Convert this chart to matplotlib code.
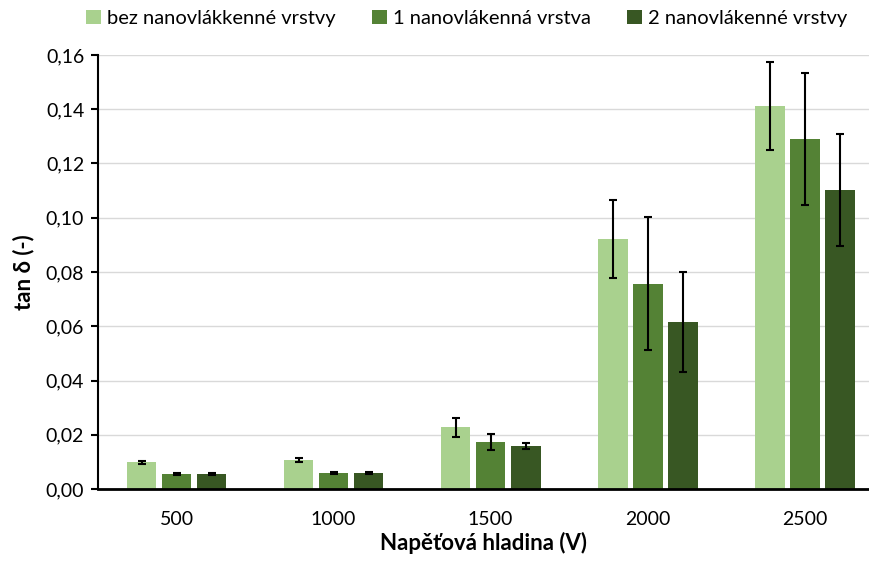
import numpy as np
import matplotlib.pyplot as plt
from matplotlib.ticker import FuncFormatter

plt.rcParams['font.family'] = ['Lato', 'DejaVu Sans']

categories = ['500', '1000', '1500', '2000', '2500']
series = ['bez nanovlákkenné vrstvy', '1 nanovlákenná vrstva', '2 nanovlákenné vrstvy']
values_0 = [0.0098, 0.0107, 0.0228, 0.0922, 0.1412]
values_1 = [0.0055, 0.0058, 0.0173, 0.0756, 0.1290]
values_2 = [0.0054, 0.0058, 0.0158, 0.0616, 0.1102]
errors_0 = [0.0005, 0.0006, 0.0035, 0.0144, 0.0162]
errors_1 = [0.0003, 0.0003, 0.0028, 0.0245, 0.0244]
errors_2 = [0.0004, 0.0003, 0.0012, 0.0183, 0.0205]
colors = ['#A9D18E', '#548235', '#385723']

fig = plt.figure(figsize=(8.69, 5.61), dpi=100)
ax = fig.add_axes([0.1128, 0.1283, 0.8872, 0.7737])

x = np.arange(len(categories))
step = 0.223
width = 0.19
for i, (vals, errs) in enumerate(zip([values_0, values_1, values_2], [errors_0, errors_1, errors_2])):
    ax.bar(x + (i - 1) * step, vals, width, color=colors[i], label=series[i], zorder=2,
           yerr=errs, capsize=3, error_kw=dict(ecolor='black', elinewidth=1.5, capthick=1.5))

ax.set_xlim(-0.5, 4.41)
ax.set_ylim(0, 0.16)
ax.set_yticks(np.arange(0, 0.161, 0.02))
ax.yaxis.set_major_formatter(FuncFormatter(lambda v, p: f'{v:.2f}'.replace('.', ',')))
ax.set_xticks(x)
ax.set_xticklabels(categories)
ax.tick_params(axis='x', length=0, labelsize=14, pad=16)
ax.tick_params(axis='y', length=5, width=1.5, labelsize=14, direction='out', pad=5)
ax.grid(axis='y', color='#d9d9d9', linewidth=1, zorder=0)
ax.set_axisbelow(True)
for s in ['top', 'right']:
    ax.spines[s].set_visible(False)
ax.spines['left'].set_linewidth(1.5)
ax.spines['bottom'].set_linewidth(2)

ax.set_xlabel('Napěťová hladina (V)', fontsize=16, fontweight='bold', labelpad=3)
ax.set_ylabel('tan δ (-)', fontsize=16, fontweight='bold', labelpad=8)

fig.legend(loc='upper center', bbox_to_anchor=(0.537, 1.015), ncol=3, frameon=False,
           fontsize=14.5, handlelength=0.75, handleheight=0.75, handletextpad=0.3, columnspacing=1.8)

fig.savefig('out.png', dpi=100)
